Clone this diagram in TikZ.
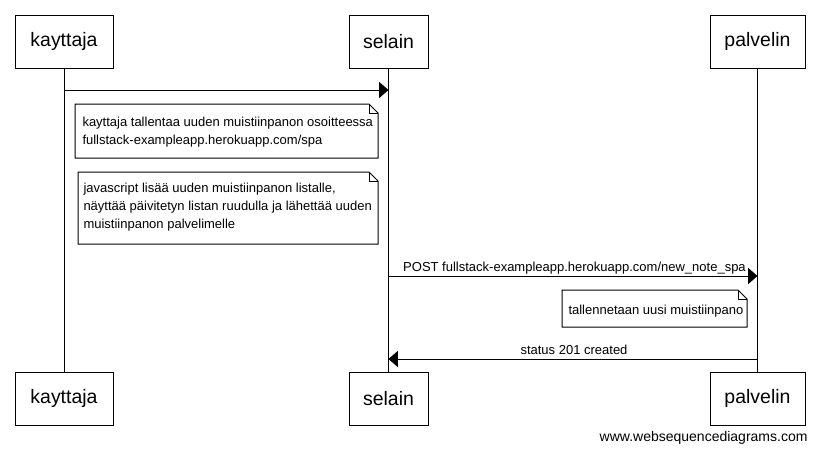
\documentclass[tikz,border=0pt]{standalone}
\usepackage{fontspec}
\setmainfont{Liberation Sans}
\usetikzlibrary{arrows.meta}
\begin{document}
\begin{tikzpicture}[x=0.75pt,y=-0.75pt,line width=0.75pt,
  actor/.style={draw,minimum width=#1*0.75pt,minimum height=53*0.75pt,font=\fontsize{14.6pt}{17pt}\selectfont,inner sep=0pt},
  msg/.style={-{Triangle[length=7pt,width=12pt]}},
  lbl/.style={font=\fontsize{9.75pt}{12pt}\selectfont,inner sep=0pt,anchor=base},
  notetxt/.style={font=\fontsize{9.75pt}{13.5pt}\selectfont,align=left,inner sep=0pt,anchor=base west}]
\useasboundingbox (0,0) rectangle (819,450);
\fill[white] (0,0) rectangle (819,450);
% participants
\node[actor=98] (k1) at (64,41.5) {kayttaja};
\node[actor=79] (s1) at (388.5,41.5) {selain};
\node[actor=95] (p1) at (757.5,41.5) {palvelin};
\node[actor=98] (k2) at (64,398.5) {kayttaja};
\node[actor=79] (s2) at (388.5,398.5) {selain};
\node[actor=95] (p2) at (757.5,398.5) {palvelin};
\draw (k1.south) -- (k2.north);
\draw (s1.south) -- (s2.north);
\draw (p1.south) -- (p2.north);
% message 1
\coordinate (m1a) at (k1.south |- 0,90);
\coordinate (m1b) at (s1.south |- 0,90);
\draw[msg] (m1a) -- (m1b);
% notes
\newcommand{\notebox}[4]{%
  \draw[fill=white] (#1,#2) -- (#3-9,#2) -- (#3,#2+9) -- (#3,#4) -- (#1,#4) -- cycle;
  \draw (#3-9,#2) -- (#3-9,#2+9) -- (#3,#2+9);}
\notebox{75}{104}{378}{158}
\node[notetxt] (n1) at (82,144) {kayttaja tallentaa uuden muistiinpanon osoitteessa\\fullstack-exampleapp.herokuapp.com/spa};
\notebox{78}{172}{378}{244}
\node[notetxt] (n2) at (83,228) {javascript lisää uuden muistiinpanon listalle,\\näyttää päivitetyn listan ruudulla ja lähettää uuden\\muistiinpanon palvelimelle};
% POST
\coordinate (m2a) at (s1.south |- 0,276);
\coordinate (m2b) at (p1.south |- 0,276);
\draw[msg] (m2a) -- (m2b);
\node[lbl] (l2) at (574.5,271) {POST fullstack-exampleapp.herokuapp.com/new\_note\_spa};
\notebox{562}{290}{747}{327}
\node[notetxt] (n3) at (568,314) {tallennetaan uusi muistiinpano};
% status
\coordinate (m3a) at (p1.south |- 0,359);
\coordinate (m3b) at (s1.south |- 0,359);
\draw[msg] (m3a) -- (m3b);
\node[lbl] (l3) at (574,354) {status 201 created};
\node[lbl,anchor=base east,font=\fontsize{10.5pt}{12pt}\selectfont] (www) at (808,441.5) {www.websequencediagrams.com};
\end{tikzpicture}
\end{document}
